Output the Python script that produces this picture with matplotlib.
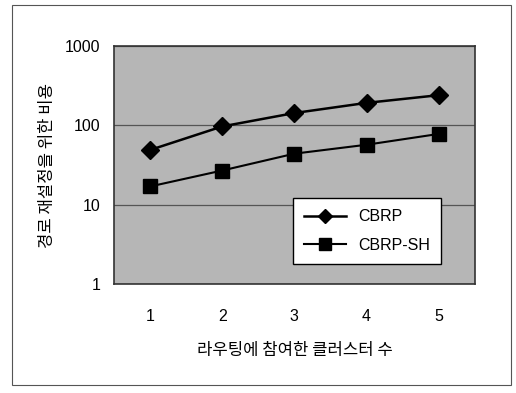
import matplotlib
matplotlib.use('Agg')
import matplotlib.pyplot as plt
from matplotlib.patches import Rectangle

plt.rcParams['font.family'] = ['Liberation Sans', 'Noto Sans CJK KR', 'DejaVu Sans']

clusters = [1, 2, 3, 4, 5]
cbrp = [49, 97, 143, 192, 240]
cbrp_sh = [17, 27, 44, 57, 78]
y_ticks = [1, 10, 100, 1000]
y_ticklabels = ['1', '10', '100', '1000']

fig = plt.figure(figsize=(5.16, 3.93), dpi=100)
fig.patches.append(Rectangle((0.023, 0.02), 0.967, 0.967, transform=fig.transFigure,
                             fill=False, edgecolor='#555555', linewidth=0.8))

ax = fig.add_axes([0.221, 0.277, 0.699, 0.606])
ax.set_facecolor('#b6b6b6')
ax.plot(clusters, cbrp, color='black', lw=1.8, marker='D', markersize=9, label='CBRP')
ax.plot(clusters, cbrp_sh, color='black', lw=1.5, marker='s', markersize=10, label='CBRP-SH')

ax.set_yscale('log')
ax.set_ylim(1, 1000)
ax.set_xlim(0.5, 5.5)
ax.set_yticks(y_ticks)
ax.set_yticklabels(y_ticklabels)
ax.minorticks_off()
ax.set_xticks(clusters)
ax.tick_params(axis='both', length=0, labelsize=11.5)
ax.tick_params(axis='x', pad=18)
ax.tick_params(axis='y', pad=10)
ax.grid(axis='y', color='#555555', lw=0.9)
for s in ax.spines.values():
    s.set_color('#333333')
    s.set_linewidth(1.2)

ax.set_xlabel('라우팅에 참여한 클러스터 수', fontsize=12, labelpad=13,
              family=['Noto Sans CJK KR', 'DejaVu Sans'])
ax.set_ylabel('경로 재설정을 위한 비용', fontsize=12, labelpad=6,
              family=['Noto Sans CJK KR', 'DejaVu Sans'])

leg = ax.legend(loc='lower right', bbox_to_anchor=(0.93, 0.05), fontsize=11.5,
                fancybox=False, framealpha=1, edgecolor='black',
                handlelength=2.6, markerscale=0.8, borderpad=0.7, labelspacing=0.85)
leg.get_frame().set_linewidth(1.0)

fig.savefig('out.png', dpi=100)
